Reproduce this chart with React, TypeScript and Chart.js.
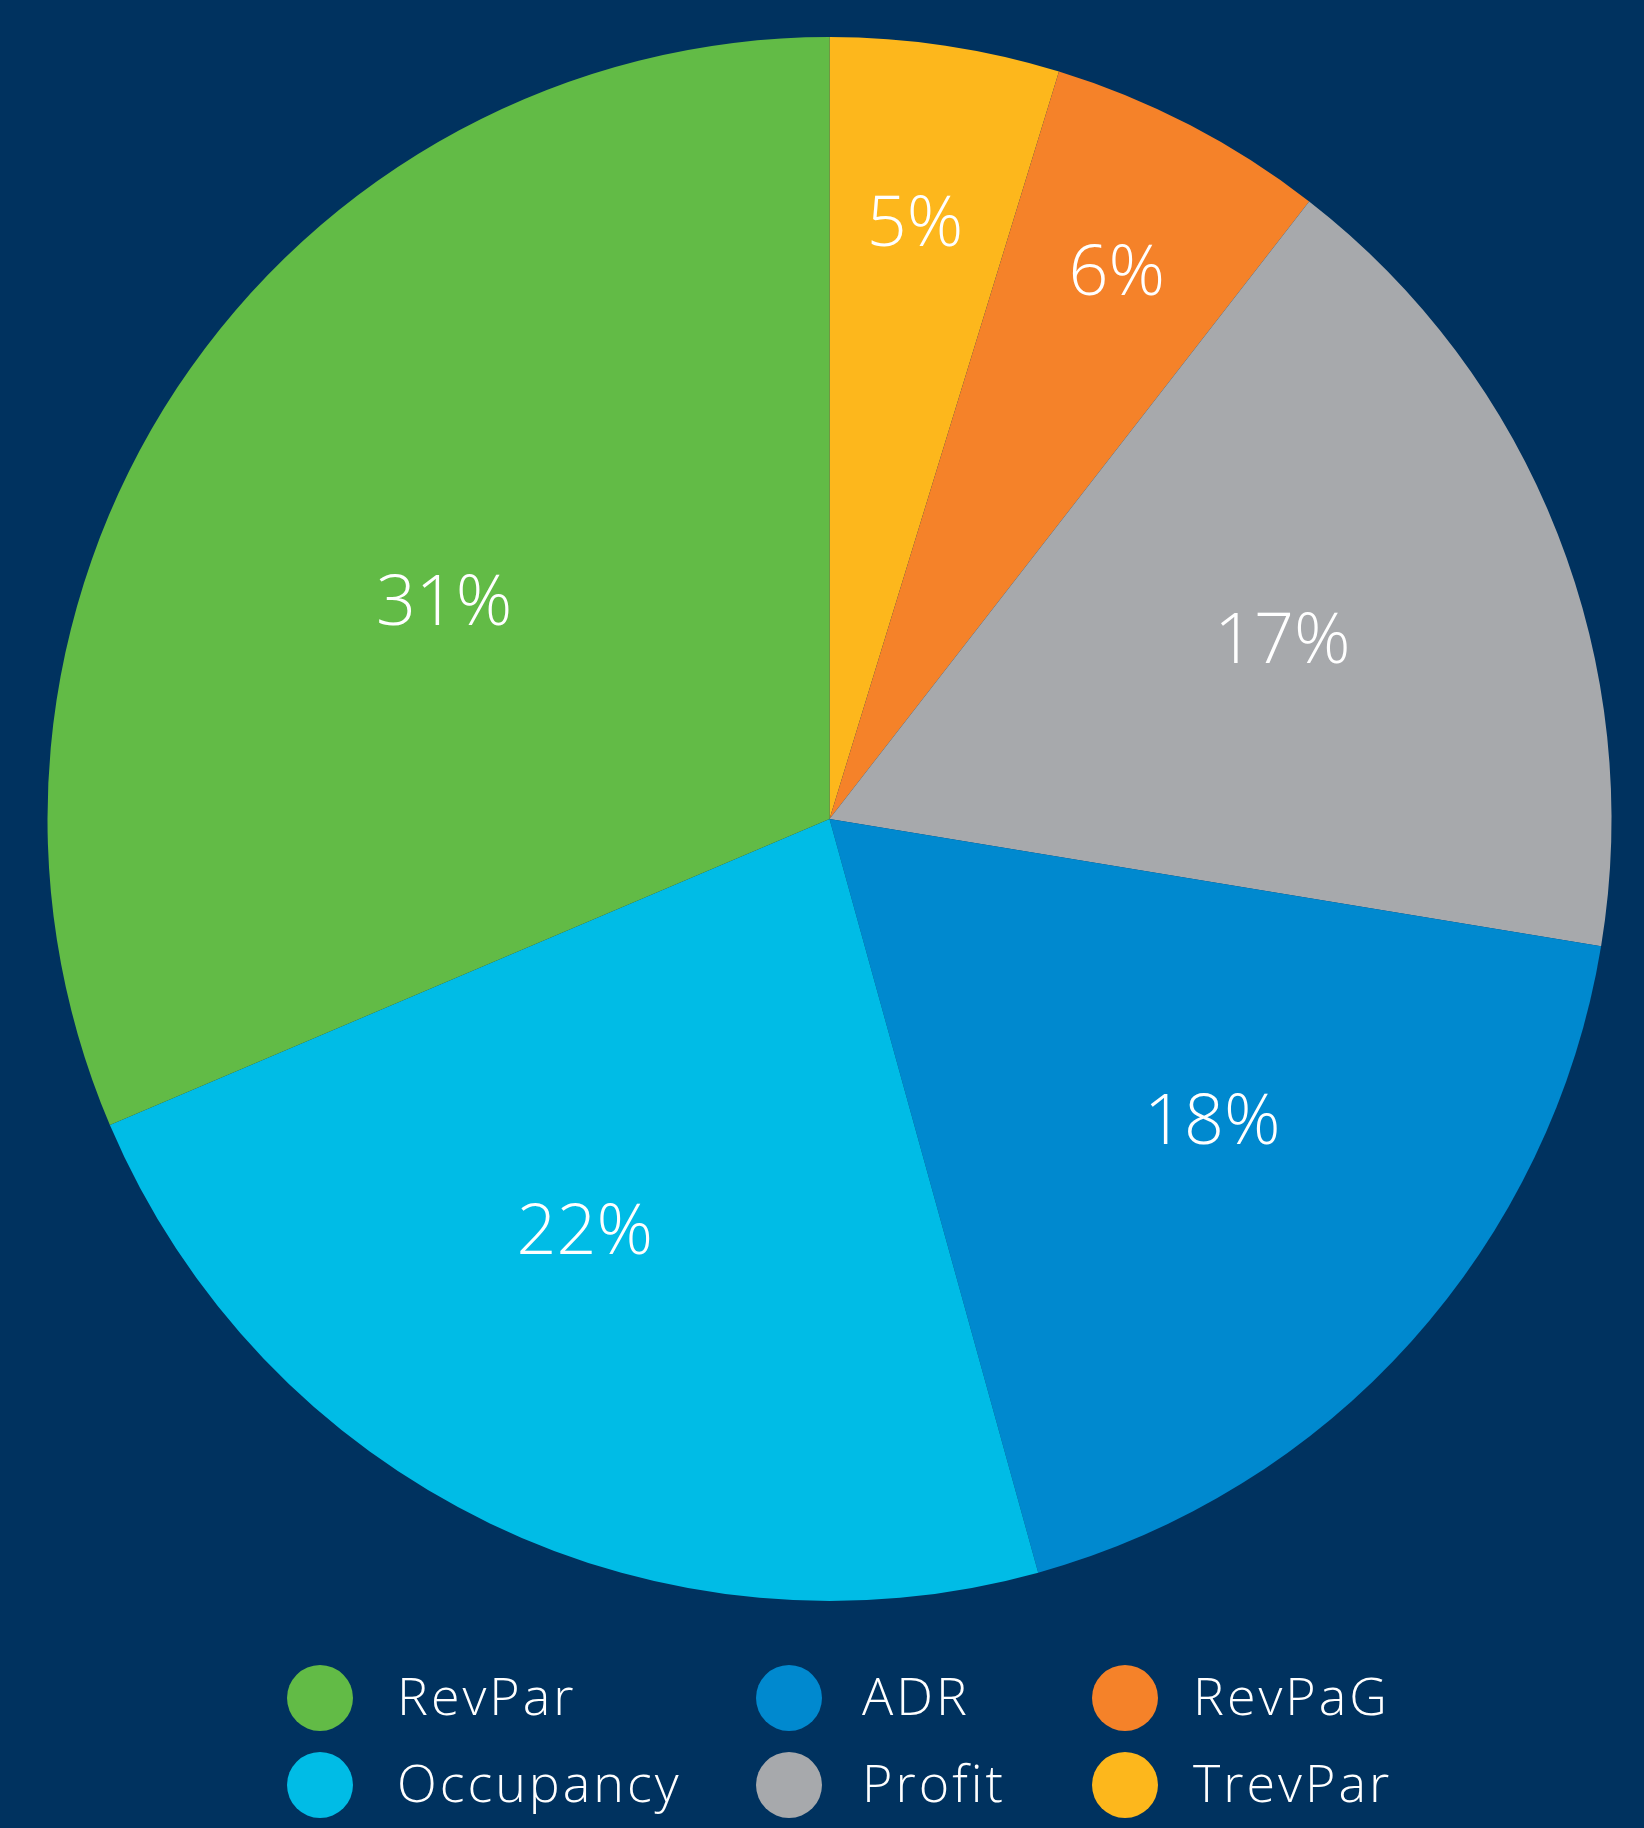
import React, { useEffect, useRef } from "react";
import { Chart, registerables } from "chart.js";

Chart.register(...registerables);

// Data (clockwise from 12 o'clock)
const categories = ["TrevPar", "RevPaG", "Profit", "ADR", "Occupancy", "RevPar"];
const shares = [4.74, 5.77, 17.09, 18.1, 22.9, 31.4];
const percentLabels = ["5%", "6%", "17%", "18%", "22%", "31%"];
const sliceColors = ["#FDB71C", "#F58229", "#A7A9AC", "#0089CF", "#00BCE6", "#62BB46"];

// Legend layout: columns of category names
const legendColumns = [
  ["RevPar", "Occupancy"],
  ["ADR", "Profit"],
  ["RevPaG", "TrevPar"],
];

// Styling constants
const BG = "#00325F";
const FONT = "'Open Sans', Lato, sans-serif";
const labelRadiusFrac = [0.769, 0.789, 0.622, 0.624, 0.614, 0.565];
const labelAngleShiftDeg = [-0.35, 0.3, 0, -3.6, 4.9, -4.2];
const legendCircleX = [320, 789, 1125];
const legendTextX = [397, 862, 1193];
const legendRowY = [1698, 1785];

const bgPlugin = {
  id: "bg",
  beforeDraw(chart: any) {
    const ctx = chart.ctx;
    ctx.save();
    ctx.fillStyle = BG;
    ctx.fillRect(0, 0, chart.width, chart.height);
    ctx.restore();
  },
};

const labelPlugin = {
  id: "sliceLabels",
  afterDatasetsDraw(chart: any) {
    const ctx = chart.ctx;
    const meta = chart.getDatasetMeta(0);
    ctx.save();
    ctx.fillStyle = "#FFFFFF";
    ctx.font = `300 70px ${FONT}`;
    ctx.textAlign = "center";
    ctx.textBaseline = "middle";
    meta.data.forEach((arc: any, i: number) => {
      const { x, y, startAngle, endAngle, outerRadius } = arc.getProps(
        ["x", "y", "startAngle", "endAngle", "outerRadius"],
        true
      );
      const mid = (startAngle + endAngle) / 2 + (labelAngleShiftDeg[i] * Math.PI) / 180;
      const r = outerRadius * labelRadiusFrac[i];
      ctx.fillText(percentLabels[i], x + Math.cos(mid) * r, y + Math.sin(mid) * r + 2);
    });
    ctx.restore();
  },
};

const legendPlugin = {
  id: "gridLegend",
  afterDraw(chart: any) {
    const ctx = chart.ctx;
    const labels: string[] = chart.data.labels;
    const colors: string[] = chart.data.datasets[0].backgroundColor;
    ctx.save();
    ctx.font = `300 52px ${FONT}`;
    (ctx as any).letterSpacing = "3px";
    ctx.textAlign = "left";
    ctx.textBaseline = "middle";
    legendColumns.forEach((col, ci) => {
      col.forEach((name, ri) => {
        const idx = labels.indexOf(name);
        const y = legendRowY[ri];
        ctx.fillStyle = colors[idx];
        ctx.beginPath();
        ctx.arc(legendCircleX[ci], y, 33, 0, Math.PI * 2);
        ctx.fill();
        ctx.fillStyle = "#FFFFFF";
        ctx.fillText(name, legendTextX[ci], y + 2);
      });
    });
    ctx.restore();
  },
};

export default function App() {
  const ref = useRef<HTMLCanvasElement | null>(null);

  useEffect(() => {
    document.body.style.margin = "0";
    document.body.style.background = BG;
    const canvas = ref.current;
    if (!canvas) return;
    const chart = new Chart(canvas, {
      type: "pie",
      data: {
        labels: categories,
        datasets: [
          {
            data: shares,
            backgroundColor: sliceColors,
            borderWidth: 0,
          },
        ],
      },
      options: {
        animation: false,
        responsive: false,
        maintainAspectRatio: false,
        devicePixelRatio: 1,
        layout: { padding: { left: 47, right: 32, top: 37, bottom: 227 } },
        plugins: {
          legend: { display: false },
          tooltip: { enabled: false },
        },
      },
      plugins: [bgPlugin, labelPlugin, legendPlugin],
    });
    return () => chart.destroy();
  }, []);

  return (
    <div style={{ width: 1644, height: 1828, background: BG }}>
      <canvas ref={ref} width={1644} height={1828} style={{ display: "block" }} />
    </div>
  );
}
